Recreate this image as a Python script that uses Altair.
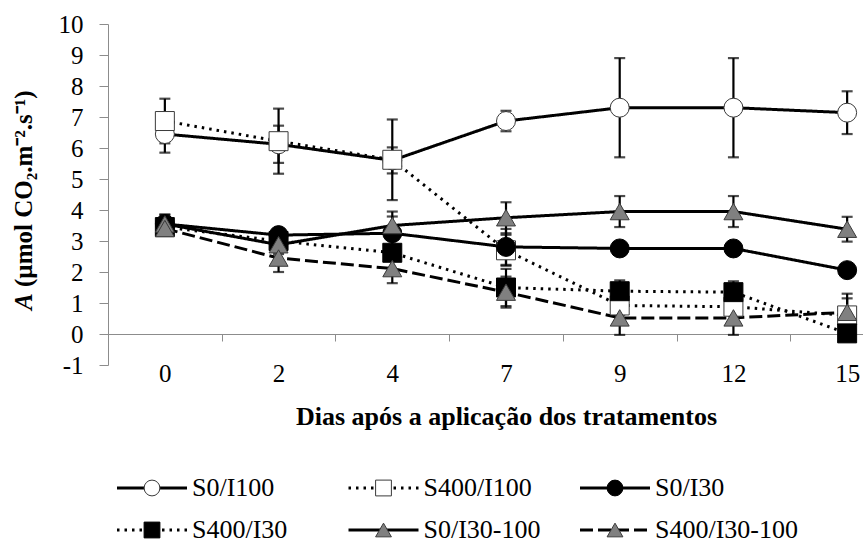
import altair as alt
import pandas as pd

# Days after treatment application (categorical x axis)
days = [0, 2, 4, 7, 9, 12, 15]

series_names = ["S0/I100", "S400/I100", "S0/I30", "S400/I30", "S0/I30-100", "S400/I30-100"]

# Net photosynthesis A (µmol CO2 m-2 s-1), treatment means
a_s0_i100 = [6.45, 6.12, 5.60, 6.87, 7.30, 7.30, 7.14]
a_s400_i100 = [6.87, 6.22, 5.62, 2.70, 0.92, 0.88, 0.60]
a_s0_i30 = [3.55, 3.19, 3.25, 2.81, 2.76, 2.76, 2.06]
a_s400_i30 = [3.45, 3.00, 2.62, 1.50, 1.38, 1.35, 0.02]
a_s0_i30_100 = [3.55, 2.88, 3.50, 3.75, 3.95, 3.95, 3.38]
a_s400_i30_100 = [3.40, 2.45, 2.11, 1.35, 0.52, 0.52, 0.70]

# Standard errors
e_s0_i100 = [0.60, 0.60, 0.42, 0.33, 1.60, 1.60, 0.69]
e_s400_i100 = [0.72, 1.05, 1.30, 0.50, 0.30, 0.30, 0.55]
e_s0_i30 = [0.30, 0.12, 0.54, 0.58, 0.10, 0.10, 0.10]
e_s400_i30 = [0.25, 0.20, 0.20, 0.60, 0.35, 0.35, 0.20]
e_s0_i30_100 = [0.30, 0.30, 0.45, 0.50, 0.50, 0.50, 0.40]
e_s400_i30_100 = [0.20, 0.45, 0.47, 0.50, 0.55, 0.55, 0.60]

means = [a_s0_i100, a_s400_i100, a_s0_i30, a_s400_i30, a_s0_i30_100, a_s400_i30_100]
errors = [e_s0_i100, e_s400_i100, e_s0_i30, e_s400_i30, e_s0_i30_100, e_s400_i30_100]

# y-axis title pieces: italic variable symbol, then the unit
y_title_symbol = ["A"]
y_title_unit = ["(µmol CO₂.m⁻².s⁻¹)"]

rows = []
for name, m_list, e_list in zip(series_names, means, errors):
    for d, m, e in zip(days, m_list, e_list):
        rows.append({"series": name, "day": d, "A": m, "lo": m - e, "hi": m + e})
df = pd.DataFrame(rows)

legend_df = pd.DataFrame({
    "series": series_names,
    "col": [i % 3 for i in range(len(series_names))],
    "row": [i // 3 for i in range(len(series_names))],
})

# Marker and line styles per treatment
shapes = ["circle", "square", "circle", "square", "triangle-up", "triangle-up"]
fills = ["white", "white", "black", "black", "#808080", "#808080"]
strokes = ["#3a3a3a", "#3a3a3a", "black", "black", "#3a3a3a", "#3a3a3a"]
dashes = [[1, 0], [2.5, 5], [1, 0], [2.5, 5], [1, 0], [13, 5]]

FONT = "Liberation Serif"
GRAY = "#8c8c8c"
PLOT_W, PLOT_H = 755, 341
X_RANGE = 796  # full category axis length; the last part runs past the right edge

shape_enc = alt.Shape("series:N", scale=alt.Scale(domain=series_names, range=shapes), legend=None)
fill_enc = alt.Fill("series:N", scale=alt.Scale(domain=series_names, range=fills), legend=None)
stroke_enc = alt.Stroke("series:N", scale=alt.Scale(domain=series_names, range=strokes), legend=None)
dash_enc = alt.StrokeDash("series:N", scale=alt.Scale(domain=series_names, range=dashes), legend=None)

x_scale = alt.Scale(type="band", range=[0, X_RANGE], paddingInner=0, paddingOuter=0)
y_scale = alt.Scale(domain=[-1, 10], nice=False, zero=False)

x_axis = alt.Axis(
    orient="bottom", offset=-PLOT_H / 11, grid=False,
    domainColor=GRAY, domainWidth=1, tickColor=GRAY, tickWidth=1, tickSize=7,
    tickBand="extent", labelAngle=0, labelFont=FONT, labelFontSize=25,
    labelColor="black", labelPadding=20, labelBaseline="top",
    title="Dias após a aplicação dos tratamentos", titleFont=FONT, titleFontSize=26,
    titleFontWeight="bold", titleColor="black", titleX=X_RANGE / 2, titleY=90,
    titleAlign="center", titleBaseline="alphabetic",
)
y_axis = alt.Axis(
    values=list(range(-1, 11)), grid=False,
    domainColor=GRAY, domainWidth=1, tickColor=GRAY, tickWidth=1, tickSize=9,
    labelFont=FONT, labelFontSize=25, labelColor="black", labelPadding=16,
    labelExpr="replace(datum.label, '\u2212', '-')",
    title=None,
)

x_enc = alt.X("day:O", scale=x_scale, axis=x_axis)


def y_of(field):
    return alt.Y(field, type="quantitative", scale=y_scale, axis=y_axis)


base = alt.Chart(df)

err_bars = base.mark_rule(color="black", strokeWidth=2.2).encode(
    x=x_enc, y=y_of("lo"), y2="hi:Q", detail="series:N")
cap_lo = base.mark_tick(color="black", thickness=2.2, size=11, orient="horizontal").encode(
    x=x_enc, y=y_of("lo"), detail="series:N")
cap_hi = base.mark_tick(color="black", thickness=2.2, size=11, orient="horizontal").encode(
    x=x_enc, y=y_of("hi"), detail="series:N")
lines = base.mark_line(color="black", strokeWidth=3).encode(
    x=x_enc, y=y_of("A"), detail="series:N", strokeDash=dash_enc)
points = base.mark_point(filled=True, size=360, strokeWidth=1, opacity=1).encode(
    x=x_enc, y=y_of("A"), shape=shape_enc, fill=fill_enc, stroke=stroke_enc)

main = alt.layer(err_bars, cap_lo, cap_hi, lines, points)

# Rotated y-axis title: italic "A" followed by the bold unit
title_a = alt.Chart(pd.DataFrame({"t": y_title_symbol})).mark_text(
    angle=270, align="left", baseline="middle", font=FONT, fontSize=25,
    fontWeight="bold", fontStyle="italic", color="black",
).encode(text="t:N", x=alt.value(-84), y=alt.value(286))
title_unit = alt.Chart(pd.DataFrame({"t": y_title_unit})).mark_text(
    angle=270, align="left", baseline="middle", font=FONT, fontSize=25,
    fontWeight="bold", color="black",
).encode(text="t:N", x=alt.value(-84), y=alt.value(263))

# Legend block below the axis title: three columns, two rows
lx = alt.X("col:Q", scale=alt.Scale(domain=[0, 2], range=[44, 507]), axis=None)
ly = alt.Y("row:Q", scale=alt.Scale(domain=[0, 1], range=[464, 506]), axis=None)
leg = alt.Chart(legend_df)
leg_line = leg.mark_rule(color="black", strokeWidth=3, xOffset=-35, x2Offset=35).encode(
    x=lx, x2="col:Q", y=ly, strokeDash=dash_enc)
leg_mark = leg.mark_point(filled=True, size=250, strokeWidth=1, opacity=1).encode(
    x=lx, y=ly, shape=shape_enc, fill=fill_enc, stroke=stroke_enc)
leg_text = leg.mark_text(align="left", baseline="middle", dx=40, font=FONT, fontSize=26,
                         color="black").encode(x=lx, y=ly, text="series:N")
legend = alt.layer(leg_line, leg_mark, leg_text, title_a, title_unit)

chart = alt.layer(main, legend).resolve_scale(
    x="independent", y="independent"
).properties(
    width=PLOT_W, height=PLOT_H,
    autosize=alt.AutoSizeParams(type="none"),
    padding={"left": 108, "top": 24, "right": 0, "bottom": 178},
    background="white",
).configure_view(stroke=None)

chart.save("out.html", embed_options={"renderer": "svg", "actions": False})
